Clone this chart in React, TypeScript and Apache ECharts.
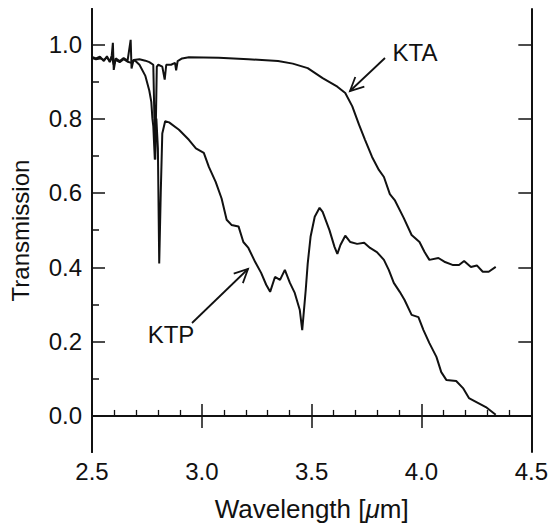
import React, { useEffect, useRef } from "react";
import * as echarts from "echarts";

// KTA transmission curve (wavelength in µm, transmission)
const ktaWavelength = [
  2.5, 2.518, 2.536, 2.554, 2.568, 2.581, 2.59, 2.595, 2.599, 2.608, 2.626, 2.644, 2.662, 2.676, 2.68,
  2.689, 2.716, 2.743, 2.761, 2.779, 2.788, 2.795, 2.802, 2.82, 2.831, 2.838, 2.86, 2.878, 2.883, 2.89,
  2.91, 2.941, 3.077, 3.212, 3.347, 3.414, 3.482, 3.55, 3.617, 3.653, 3.685, 3.716, 3.743, 3.775, 3.806,
  3.829, 3.856, 3.878, 3.919, 3.955, 3.991, 4.014, 4.036, 4.077, 4.104, 4.144, 4.171, 4.194, 4.225,
  4.252, 4.279, 4.306, 4.338,
];
const ktaTransmission = [
  0.966, 0.962, 0.967, 0.955, 0.968, 0.952, 0.97, 1.004, 0.931, 0.962, 0.955, 0.963, 0.956, 1.012, 0.935,
  0.958, 0.96, 0.956, 0.952, 0.945, 0.69, 0.94, 0.945, 0.94, 0.905, 0.945, 0.945, 0.95, 0.93, 0.955,
  0.962, 0.965, 0.964, 0.96, 0.955, 0.948, 0.936, 0.909, 0.886, 0.869, 0.833, 0.783, 0.743, 0.697, 0.662,
  0.643, 0.597, 0.581, 0.533, 0.487, 0.468, 0.441, 0.42, 0.425, 0.415, 0.406, 0.406, 0.417, 0.401,
  0.405, 0.388, 0.388, 0.401,
];

// KTP transmission curve
const ktpWavelength = [
  2.5, 2.518, 2.536, 2.554, 2.568, 2.581, 2.59, 2.599, 2.608, 2.626, 2.644, 2.662, 2.68, 2.689, 2.698,
  2.716, 2.743, 2.761, 2.77, 2.775, 2.779, 2.786, 2.793, 2.8, 2.806, 2.813, 2.82, 2.833, 2.851, 2.896,
  2.941, 2.973, 3.009, 3.032, 3.063, 3.09, 3.113, 3.135, 3.167, 3.189, 3.212, 3.243, 3.27, 3.293, 3.311,
  3.333, 3.356, 3.378, 3.401, 3.423, 3.446, 3.457, 3.473, 3.482, 3.495, 3.514, 3.536, 3.55, 3.581, 3.604,
  3.617, 3.631, 3.653, 3.676, 3.707, 3.739, 3.766, 3.797, 3.829, 3.851, 3.874, 3.901, 3.923, 3.955,
  3.986, 4.009, 4.036, 4.068, 4.09, 4.113, 4.158, 4.189, 4.216, 4.248, 4.293, 4.338,
];
const ktpTransmission = [
  0.963, 0.96, 0.962, 0.958, 0.965, 0.955, 0.966, 0.945, 0.958, 0.952, 0.96, 0.953, 0.95, 0.957, 0.955,
  0.945, 0.915, 0.875, 0.845, 0.8, 0.78, 0.69, 0.8, 0.72, 0.41, 0.6, 0.76, 0.793, 0.79, 0.77,
  0.743, 0.72, 0.708, 0.67, 0.63, 0.585, 0.528, 0.514, 0.51, 0.468, 0.452, 0.414, 0.385, 0.353, 0.334,
  0.374, 0.366, 0.393, 0.358, 0.331, 0.285, 0.231, 0.339, 0.41, 0.482, 0.536, 0.56, 0.549, 0.5, 0.455,
  0.436, 0.46, 0.485, 0.468, 0.463, 0.466, 0.452, 0.441, 0.42, 0.393, 0.358, 0.334, 0.312, 0.272,
  0.266, 0.231, 0.196, 0.159, 0.118, 0.097, 0.094, 0.075, 0.048, 0.038, 0.024, 0.003,
];

const yMajorTicks = [0, 0.2, 0.4, 0.6, 0.8, 1.0];
const yMinorTicks = [0.1, 0.3, 0.5, 0.7, 0.9];

const INK = "#111";
const FONT = "Liberation Sans";

function arrow(x1: number, y1: number, x2: number, y2: number) {
  const dx = x2 - x1;
  const dy = y2 - y1;
  const L = Math.hypot(dx, dy);
  const bx = -dx / L;
  const by = -dy / L;
  const h = 15;
  const a = (26 * Math.PI) / 180;
  const r1 = [bx * Math.cos(a) - by * Math.sin(a), bx * Math.sin(a) + by * Math.cos(a)];
  const r2 = [bx * Math.cos(-a) - by * Math.sin(-a), bx * Math.sin(-a) + by * Math.cos(-a)];
  return [
    { type: "line", shape: { x1, y1, x2, y2 }, style: { stroke: INK, lineWidth: 1.8 } },
    {
      type: "polyline",
      shape: {
        points: [
          [x2 + r1[0] * h, y2 + r1[1] * h],
          [x2, y2],
          [x2 + r2[0] * h, y2 + r2[1] * h],
        ],
      },
      style: { stroke: INK, lineWidth: 1.8, fill: "none" },
    },
  ];
}

export default function App() {
  const ref = useRef<HTMLDivElement>(null);
  useEffect(() => {
    if (!ref.current) return;
    const chart = echarts.init(ref.current, undefined, { renderer: "svg" });
    const zip = (xs: number[], ys: number[]) => xs.map((x, i) => [x, ys[i]]);
    const yMin = -0.097;
    const yMax = 1.095;
    const baseX = {
      type: "value",
      min: 2.5,
      max: 4.5,
      interval: 0.5,
      splitLine: { show: false },
      axisLine: { show: true, lineStyle: { color: INK, width: 2 } },
    };
    const baseY = {
      type: "value",
      min: yMin,
      max: yMax,
      splitLine: { show: false },
      axisLine: { show: true, lineStyle: { color: INK, width: 2 } },
    };
    chart.setOption({
      animation: false,
      backgroundColor: "#fff",
      grid: { left: 92, right: 15, top: 9, bottom: 79, containLabel: false },
      xAxis: [
        {
          ...baseX,
          position: "bottom",
          axisTick: { show: true, inside: true, length: 12, lineStyle: { color: INK, width: 1.5 } },
          minorTick: { show: true, splitNumber: 5, length: 6, lineStyle: { color: INK, width: 1.3 } },
          axisLabel: {
            show: true,
            margin: 7,
            fontSize: 24,
            fontFamily: FONT,
            color: INK,
            formatter: (v: number) => v.toFixed(1),
          },
          name: "Wavelength [{i|\u03bc}m]",
          nameLocation: "middle",
          nameGap: 44,
          nameTextStyle: {
            fontSize: 26,
            fontFamily: FONT,
            color: INK,
            rich: { i: { fontSize: 26, fontFamily: FONT, fontStyle: "italic", color: INK } },
          },
        },
        {
          ...baseX,
          position: "top",
          axisTick: { show: true, inside: true, length: 12, lineStyle: { color: INK, width: 1.5 } },
          axisLabel: { show: false },
        },
      ],
      yAxis: [
        {
          ...baseY,
          position: "left",
          axisTick: {
            show: true,
            inside: true,
            length: 13,
            customValues: yMajorTicks,
            lineStyle: { color: INK, width: 1.5 },
          },
          axisLabel: {
            show: true,
            margin: 10,
            fontSize: 24,
            fontFamily: FONT,
            color: INK,
            customValues: yMajorTicks,
            formatter: (v: number) => v.toFixed(1),
          },
          name: "Transmission",
          nameLocation: "middle",
          nameRotate: 90,
          nameGap: 60,
          nameTextStyle: { fontSize: 24, fontFamily: FONT, color: INK },
        },
        {
          ...baseY,
          position: "left",
          offset: 0,
          axisTick: {
            show: true,
            inside: true,
            length: 7,
            customValues: yMinorTicks,
            lineStyle: { color: INK, width: 1.5 },
          },
          axisLabel: { show: false },
        },
        {
          ...baseY,
          position: "right",
          axisTick: {
            show: true,
            inside: true,
            length: 13,
            customValues: yMajorTicks,
            lineStyle: { color: INK, width: 1.5 },
          },
          axisLabel: { show: false },
        },
      ],
      series: [
        {
          name: "KTA",
          type: "line",
          data: zip(ktaWavelength, ktaTransmission),
          showSymbol: false,
          symbol: "none",
          lineStyle: { color: INK, width: 2 },
          xAxisIndex: 0,
          yAxisIndex: 0,
        },
        {
          name: "KTP",
          type: "line",
          data: zip(ktpWavelength, ktpTransmission),
          showSymbol: false,
          symbol: "none",
          lineStyle: { color: INK, width: 2 },
          xAxisIndex: 0,
          yAxisIndex: 0,
        },
      ],
      graphic: [
        {
          type: "text",
          x: 415,
          y: 52,
          style: { text: "KTA", fontSize: 24, fontFamily: FONT, fill: INK, align: "center", verticalAlign: "middle" },
        },
        {
          type: "text",
          x: 171,
          y: 334,
          style: { text: "KTP", fontSize: 24, fontFamily: FONT, fill: INK, align: "center", verticalAlign: "middle" },
        },
        ...arrow(385, 58, 350, 91),
        ...arrow(192, 323, 248, 269),
      ],
    });
    return () => chart.dispose();
  }, []);
  return (
    <div
      ref={ref}
      style={{ position: "fixed", left: 0, top: 0, width: 551, height: 531, background: "#fff" }}
    />
  );
}
